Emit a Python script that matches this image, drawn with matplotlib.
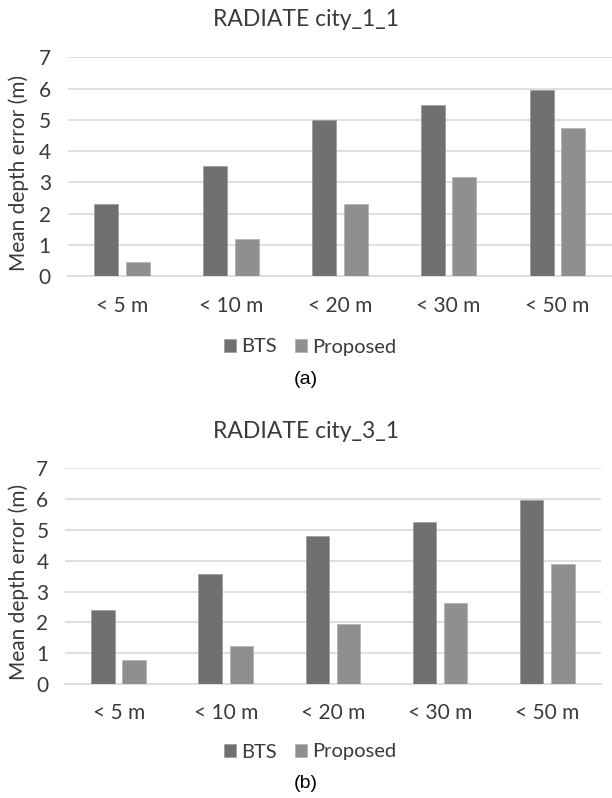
import numpy as np
import matplotlib
matplotlib.use("Agg")
import matplotlib.pyplot as plt

categories = ["< 5 m", "< 10 m", "< 20 m", "< 30 m", "< 50 m"]

city1_bts = [2.32, 3.53, 4.99, 5.48, 5.94]
city1_proposed = [0.45, 1.20, 2.32, 3.17, 4.74]

city3_bts = [2.41, 3.57, 4.79, 5.25, 5.97]
city3_proposed = [0.79, 1.22, 1.96, 2.64, 3.89]

W, H = 612, 798
plt.rcParams["font.family"] = ["Lato", "DejaVu Sans"]

fig = plt.figure(figsize=(W / 100, H / 100), dpi=100)

bts_color = "#707070"
prop_color = "#8f8f8f"
grid_color = "#d9d9d9"
text_color = "#3a3a3a"


def fx(px):
    return px / W


def fy(py):
    return 1 - py / H


def draw_panel(left, right, top, bottom, bts, prop, title, title_y, legend_y, tag, tag_y):
    ax = fig.add_axes([fx(left), fy(bottom), (right - left) / W, (bottom - top) / H])
    x = np.arange(len(categories))
    b1 = ax.bar(x - 0.145, bts, width=0.22, color=bts_color, edgecolor="#9a9a9a", linewidth=0.5, zorder=3)
    b2 = ax.bar(x + 0.145, prop, width=0.22, color=prop_color, edgecolor="#b0b0b0", linewidth=0.5, zorder=3)
    ax.set_xlim(-0.5, len(categories) - 0.5)
    ax.set_ylim(0, 7)
    ax.set_yticks(range(8))
    ax.set_xticks(x)
    ax.set_xticklabels(categories)
    ax.grid(axis="y", color=grid_color, linewidth=1.2, zorder=0)
    for s in ["top", "right", "left"]:
        ax.spines[s].set_visible(False)
    ax.spines["bottom"].set_color(grid_color)
    ax.spines["bottom"].set_linewidth(1.2)
    ax.tick_params(axis="y", length=0, pad=12, labelsize=15, labelcolor=text_color)
    ax.tick_params(axis="x", length=0, pad=14, labelsize=15, labelcolor=text_color)

    fig.text(fx(306), fy(title_y), title, ha="center", va="center", fontsize=16.5, color=text_color)
    fig.text(fx(19), fy((top + bottom) / 2 + 6), "Mean depth error (m)", rotation=90,
             ha="center", va="center", fontsize=15, color=text_color)
    fig.legend([b1, b2], ["BTS", "Proposed"], loc="center", bbox_to_anchor=(fx(310), fy(legend_y)),
               ncol=2, frameon=False, fontsize=14.5, handlelength=0.6, handleheight=0.6,
               handletextpad=0.25, columnspacing=0.9, labelcolor=text_color)
    fig.text(fx(306), fy(tag_y), tag, ha="center", va="center", fontsize=14,
             family=["Liberation Sans", "DejaVu Sans"], color="black")
    return ax


draw_panel(67.5, 612, 57.3, 276.3, city1_bts, city1_proposed, "RADIATE city_1_1",
           20, 347, "(a)", 380)
draw_panel(65.1, 600.8, 468.3, 684, city3_bts, city3_proposed, "RADIATE city_3_1",
           432, 752, "(b)", 784)

fig.savefig("out.png", dpi=100, facecolor="white")
